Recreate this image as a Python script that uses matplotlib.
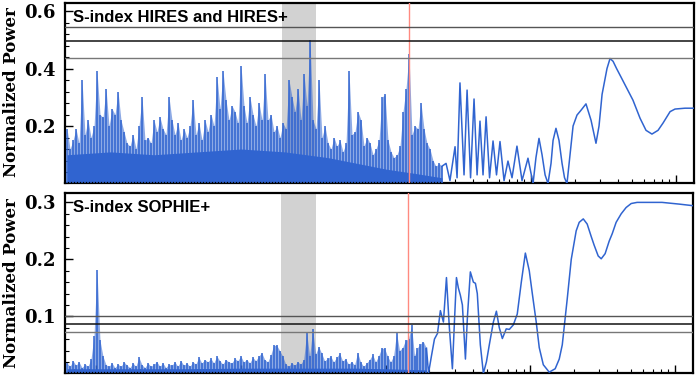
import numpy as np
import matplotlib
matplotlib.use("Agg")
import matplotlib.pyplot as plt
from matplotlib.ticker import FixedLocator, MultipleLocator, NullFormatter, LogLocator

# ---------------- data ----------------
# dense short-period part: spike heights on an even log-period grid (log10 days)
top_dense_logp_range = (-1.2, 1.386)
top_dense_power = [
    0.19, 0.12, 0.15, 0.19, 0.14, 0.36, 0.17, 0.22, 0.16, 0.20,
    0.39, 0.24, 0.23, 0.33, 0.20, 0.26, 0.24, 0.32, 0.22, 0.18,
    0.14, 0.13, 0.17, 0.12, 0.20, 0.30, 0.15, 0.16, 0.14, 0.22,
    0.18, 0.23, 0.19, 0.17, 0.30, 0.22, 0.17, 0.21, 0.15, 0.19,
    0.16, 0.20, 0.29, 0.17, 0.21, 0.15, 0.22, 0.18, 0.24, 0.20,
    0.37, 0.26, 0.39, 0.29, 0.22, 0.27, 0.25, 0.21, 0.41, 0.27,
    0.21, 0.30, 0.24, 0.20, 0.28, 0.22, 0.38, 0.22, 0.24, 0.18,
    0.20, 0.16, 0.21, 0.19, 0.36, 0.30, 0.25, 0.33, 0.22, 0.38,
    0.27, 0.50, 0.22, 0.19, 0.36, 0.16, 0.20, 0.14, 0.12, 0.16,
    0.13, 0.15, 0.11, 0.14, 0.39, 0.17, 0.18, 0.25, 0.22, 0.13,
    0.16, 0.14, 0.10, 0.12, 0.15, 0.30, 0.31, 0.15, 0.11, 0.09,
    0.10, 0.13, 0.25, 0.33, 0.45, 0.17, 0.20, 0.19, 0.28, 0.19,
    0.14, 0.12, 0.08, 0.06, 0.07, 0.06,
]
# solid lower part of the dense forest
top_floor_logp = [-1.2, -0.9, -0.6, -0.3, 0.0, 0.3, 0.6, 0.8, 1.0, 1.2, 1.386]
top_floor_power = [0.10, 0.11, 0.10, 0.11, 0.12, 0.11, 0.09, 0.07, 0.05, 0.035, 0.02]

top_curve_logp = [
    1.386, 1.414, 1.441, 1.476, 1.490, 1.510, 1.538, 1.559, 1.583, 1.607,
    1.628, 1.648, 1.669, 1.690, 1.714, 1.738, 1.762, 1.786, 1.814, 1.841,
    1.869, 1.903, 1.938, 1.979, 2.014, 2.034, 2.055, 2.076, 2.097, 2.117,
    2.138, 2.152, 2.172, 2.193, 2.214, 2.231, 2.248, 2.269, 2.290, 2.317,
    2.345, 2.379, 2.414, 2.448, 2.469, 2.490, 2.524, 2.545, 2.566, 2.590,
    2.621, 2.662, 2.703, 2.752, 2.793, 2.834, 2.876, 2.910, 2.959, 2.993,
    3.062, 3.131,
]
top_curve_power = [
    0.06, 0.07, 0.01, 0.128, 0.02, 0.35, 0.03, 0.325, 0.02, 0.294,
    0.03, 0.217, 0.03, 0.232, 0.02, 0.148, 0.03, 0.146, 0.01, 0.078,
    0.02, 0.13, 0.01, 0.088, 0.0, 0.09, 0.157, 0.10, 0.03, 0.0,
    0.07, 0.15, 0.192, 0.15, 0.07, 0.02, 0.0, 0.10, 0.20, 0.238,
    0.255, 0.277, 0.22, 0.14, 0.20, 0.31, 0.40, 0.435, 0.425, 0.40,
    0.37, 0.33, 0.29, 0.227, 0.185, 0.172, 0.185, 0.21, 0.25, 0.259,
    0.262, 0.262,
]
top_fap = [0.544, 0.496, 0.437]

bot_dense_logp_range = (-1.2, 1.283)
bot_dense_power = [
    0.018, 0.012, 0.022, 0.014, 0.020, 0.010, 0.016, 0.012, 0.025, 0.065,
    0.182, 0.058, 0.030, 0.015, 0.012, 0.018, 0.010, 0.016, 0.012, 0.020,
    0.014, 0.010, 0.018, 0.012, 0.028, 0.015, 0.010, 0.018, 0.012, 0.016,
    0.020, 0.012, 0.018, 0.010, 0.016, 0.014, 0.020, 0.012, 0.022, 0.014,
    0.018, 0.012, 0.020, 0.016, 0.028, 0.018, 0.024, 0.020, 0.026, 0.018,
    0.030, 0.022, 0.016, 0.024, 0.020, 0.018, 0.026, 0.022, 0.030, 0.020,
    0.024, 0.018, 0.028, 0.022, 0.030, 0.036, 0.024, 0.020, 0.032, 0.049,
    0.049, 0.040, 0.030, 0.016, 0.012, 0.018, 0.014, 0.020, 0.016, 0.024,
    0.071, 0.030, 0.077, 0.034, 0.047, 0.035, 0.022, 0.026, 0.030, 0.020,
    0.028, 0.035, 0.022, 0.025, 0.016, 0.020, 0.015, 0.036, 0.020, 0.012,
    0.018, 0.024, 0.033, 0.020, 0.030, 0.044, 0.044, 0.030, 0.020, 0.030,
    0.071, 0.040, 0.045, 0.058, 0.060, 0.084, 0.031, 0.045, 0.052, 0.055,
    0.044,
]
bot_floor_logp = [-1.2, -0.8, -0.4, 0.0, 0.4, 0.8, 1.0, 1.283]
bot_floor_power = [0.008, 0.008, 0.008, 0.009, 0.009, 0.009, 0.008, 0.006]

bot_curve_logp = [
    1.283, 1.297, 1.317, 1.338, 1.359, 1.379, 1.400, 1.421, 1.441, 1.462,
    1.476, 1.490, 1.503, 1.517, 1.531, 1.552, 1.566, 1.586, 1.607, 1.621,
    1.634, 1.655, 1.676, 1.697, 1.717, 1.745, 1.766, 1.786, 1.807, 1.834,
    1.855, 1.883, 1.910, 1.938, 1.966, 1.993, 2.014, 2.041, 2.062, 2.090,
    2.131, 2.172, 2.200, 2.221, 2.255, 2.283, 2.317, 2.338, 2.366, 2.393,
    2.421, 2.441, 2.469, 2.490, 2.517, 2.545, 2.566, 2.593, 2.628, 2.662,
    2.697, 2.738, 2.821, 2.910, 3.028, 3.131,
]
bot_curve_power = [
    0.044, 0.0, 0.03, 0.06, 0.07, 0.11, 0.09, 0.168, 0.08, 0.008,
    0.09, 0.168, 0.15, 0.137, 0.12, 0.025, 0.10, 0.178, 0.16, 0.158,
    0.14, 0.05, 0.0, 0.02, 0.05, 0.09, 0.109, 0.08, 0.061, 0.078,
    0.077, 0.085, 0.104, 0.16, 0.211, 0.18, 0.14, 0.09, 0.045, 0.015,
    0.002, 0.008, 0.025, 0.05, 0.13, 0.20, 0.25, 0.265, 0.271, 0.262,
    0.24, 0.225, 0.206, 0.201, 0.21, 0.232, 0.245, 0.265, 0.28, 0.291,
    0.298, 0.300, 0.300, 0.300, 0.297, 0.294,
]
bot_fap = [0.1005, 0.087, 0.0725]

band_period = (1.91, 3.29)
marker_period = 14.4
titles = ["S-index HIRES and HIRES+", "S-index SOPHIE+"]
ylabel = "Normalized Power"

# ---------------- figure ----------------
BLUE = "#3064d0"
fig = plt.figure(figsize=(7.0, 3.76), dpi=100)
ax1 = fig.add_axes([65 / 700, 1 - 183.5 / 376, 629 / 700, 180.5 / 376])
ax2 = fig.add_axes([65 / 700, 1 - 373.3 / 376, 628 / 700, 180.6 / 376])

panels = [
    (ax1, top_dense_logp_range, top_dense_power, top_floor_logp, top_floor_power,
     top_curve_logp, top_curve_power, top_fap, 0.628, 0.2, 0.04, titles[0]),
    (ax2, bot_dense_logp_range, bot_dense_power, bot_floor_logp, bot_floor_power,
     bot_curve_logp, bot_curve_power, bot_fap, 0.317, 0.1, 0.02, titles[1]),
]

for (ax, drange, dpow, flogp, fpow, clogp, cpow, fap, ytop, ymaj, ymin, title) in panels:
    ax.set_xscale("log")
    ax.set_xlim(10 ** -1.214, 10 ** 3.124)
    ax.set_ylim(0, ytop)
    ax.axvspan(band_period[0], band_period[1], color="#d2d2d2", lw=0, zorder=1)
    per = np.logspace(drange[0], drange[1], len(dpow))
    # light texture of the dense forest, solid lower part, and the spikes
    ax.fill_between(per, 0, dpow, color=BLUE, alpha=0.55, lw=0, zorder=2)
    ax.fill_between(10 ** np.array(flogp), 0, fpow, color=BLUE, lw=0, zorder=2)
    ax.vlines(per, 0, dpow, color=BLUE, lw=1.1, zorder=3)
    ax.plot(10 ** np.array(clogp), cpow, color=BLUE, lw=1.1, zorder=3)
    ax.axvline(marker_period, color="#ff8a80", lw=1.0, zorder=4)
    ax.axhline(fap[0], color="#555555", lw=1.0, zorder=4)
    ax.axhline(fap[1], color="#111111", lw=1.1, zorder=4)
    ax.axhline(fap[2], color="#777777", lw=1.0, zorder=4)

    ax.xaxis.set_major_locator(FixedLocator([0.1, 1, 10, 100, 1000]))
    ax.xaxis.set_minor_locator(LogLocator(base=10, subs=np.arange(2, 10)))
    ax.xaxis.set_major_formatter(NullFormatter())
    ax.xaxis.set_minor_formatter(NullFormatter())
    ax.set_yticks(np.arange(ymaj, ytop, ymaj))
    ax.yaxis.set_minor_locator(MultipleLocator(ymin))
    ax.tick_params(axis="both", which="both", direction="in", top=False, right=False)
    ax.tick_params(axis="x", which="major", length=6, width=1.0)
    ax.tick_params(axis="x", which="minor", length=3, width=0.8)
    ax.tick_params(axis="y", which="major", length=6, width=1.0, pad=7)
    ax.tick_params(axis="y", which="minor", length=3, width=0.8)
    ax.set_yticklabels([f"{t:.1f}" for t in np.arange(ymaj, ytop, ymaj)],
                       fontfamily="DejaVu Serif", fontweight="bold", fontsize=13)
    for sp in ax.spines.values():
        sp.set_linewidth(1.6)
        sp.set_color("black")
    ax.text(0.013, 0.96, title, transform=ax.transAxes, ha="left", va="top",
            fontsize=12, fontfamily="Liberation Sans", fontweight="bold",
            zorder=6)

fig.text(12 / 700, 1 - 92 / 376, ylabel, rotation=90, ha="center", va="center",
         fontsize=12, fontfamily="DejaVu Serif", fontweight="bold")
fig.text(12 / 700, 1 - 283 / 376, ylabel, rotation=90, ha="center", va="center",
         fontsize=12, fontfamily="DejaVu Serif", fontweight="bold")

fig.savefig("out.png", dpi=100)
